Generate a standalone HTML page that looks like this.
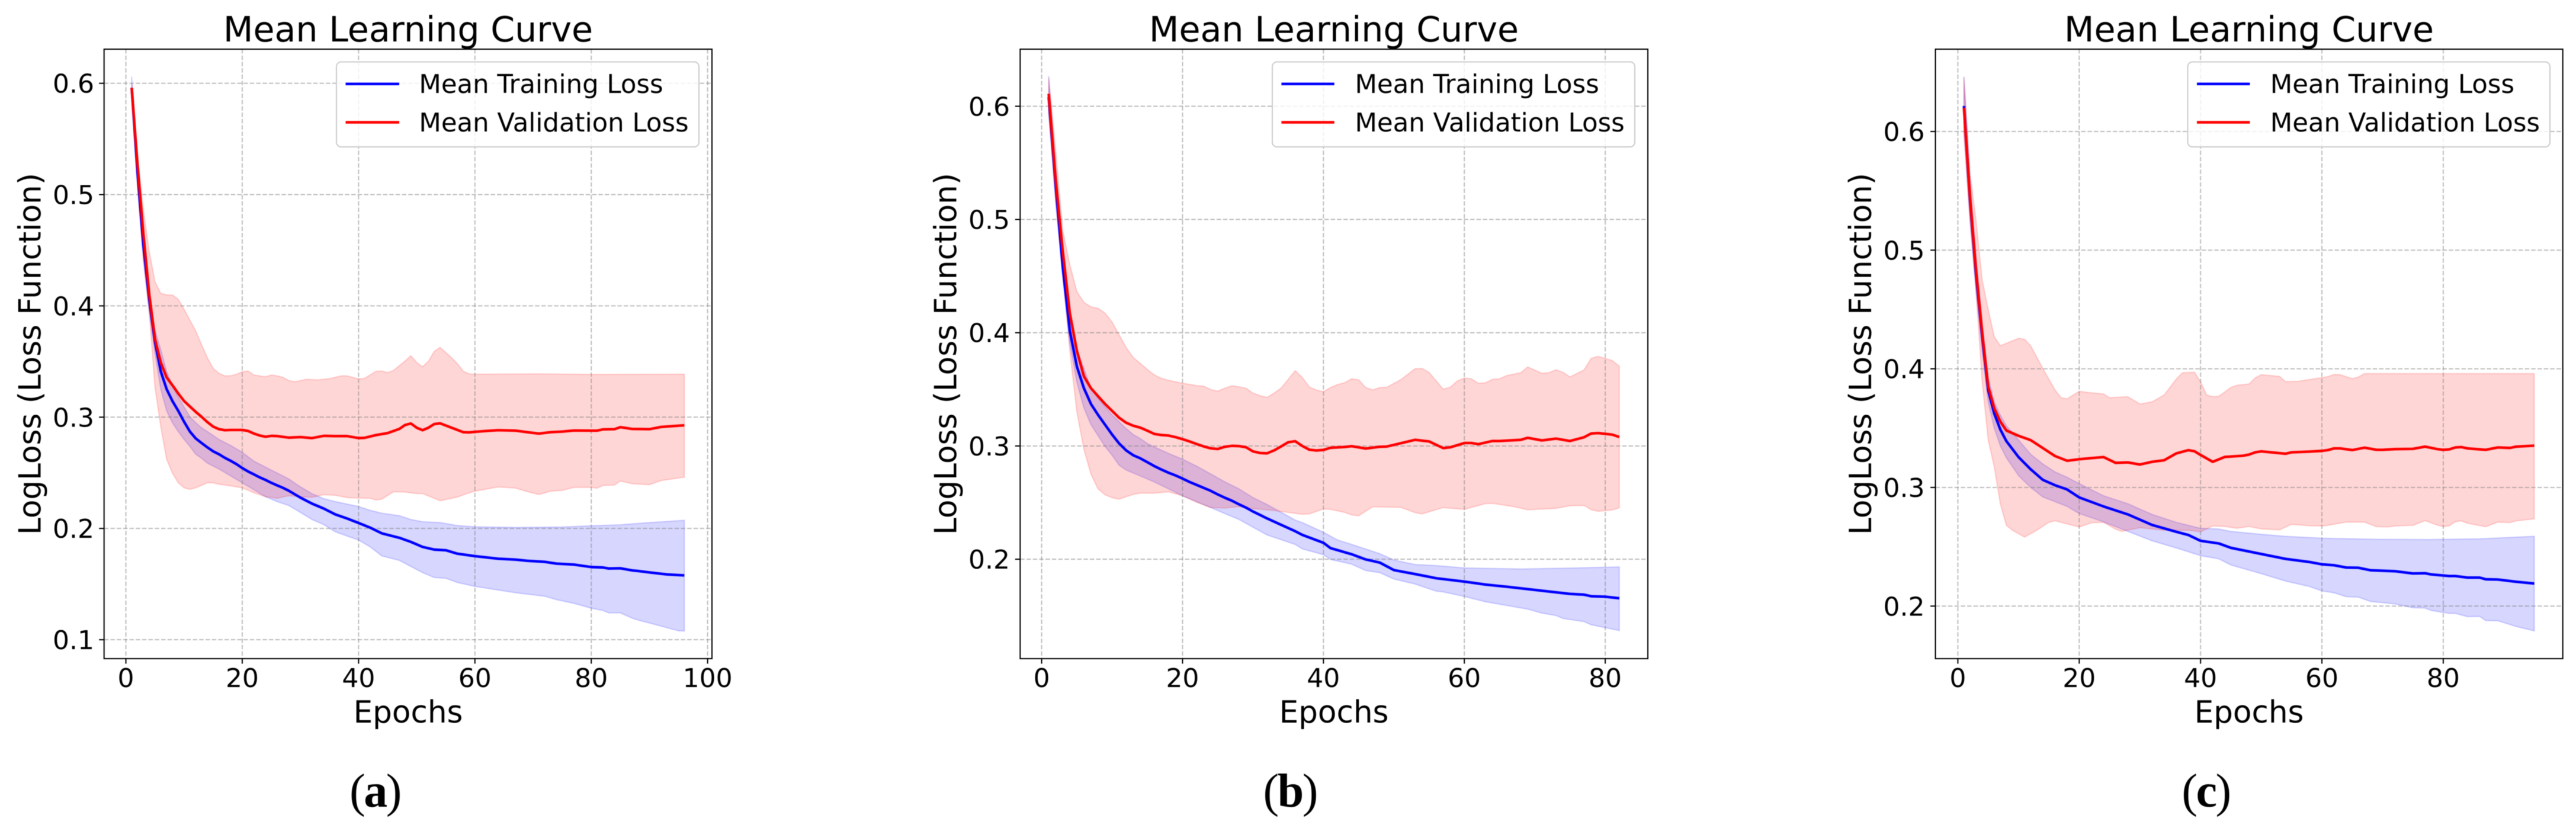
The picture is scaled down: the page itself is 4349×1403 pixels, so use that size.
<!DOCTYPE html>
<html lang="en">
<head>
<meta charset="utf-8">
<title>Mean Learning Curve panels</title>
<style>
html,body{margin:0;padding:0;background:#fff;}
svg{display:block;filter:blur(.6px);}
text{font-family:"DejaVu Sans",sans-serif;fill:#000;}
.title{font-size:58.6px;text-anchor:middle;}
.axis-label{font-size:51.6px;text-anchor:middle;}
.tick-label{font-size:44px;}
.legend-text{font-size:43.4px;}
.caption{font-family:"Liberation Serif",serif;font-size:80px;text-anchor:middle;letter-spacing:-2.5px;}
.legend-box{fill:#fff;fill-opacity:.8;stroke:#ccc;stroke-width:2;}
.spine{fill:none;stroke:#000;stroke-width:2;}
</style>
</head>
<body>
<svg id="figure" xmlns="http://www.w3.org/2000/svg" width="4349" height="1403" viewBox="0 0 4349 1403">
<rect width="4349" height="1403" fill="#fff"/>

<g>
  <g id="plot-a"></g>
  <rect class="spine" x="175.7" y="83" width="1026.3" height="1029"/>
  <text class="title" x="689" y="70">Mean Learning Curve</text>
  <text class="axis-label" x="689" y="1220">Epochs</text>
  <text class="axis-label" x="68.5" y="597.5" transform="rotate(-90 68.5 597.5)">LogLoss (Loss Function)</text>
  <g>
    <rect class="legend-box" x="568" y="104.5" width="612" height="143.5" rx="8"/>
    <line x1="583.5" x2="674" y1="141.7" y2="141.7" stroke="#00f" stroke-width="4.4"/>
    <line x1="583.5" x2="674" y1="206.5" y2="206.5" stroke="#f00" stroke-width="4.4"/>
    <text class="legend-text" x="707.4" y="157">Mean Training Loss</text>
    <text class="legend-text" x="707.4" y="222">Mean Validation Loss</text>
  </g>
  <text class="caption" x="633" y="1362">(<tspan font-weight="bold">a</tspan>)</text>
</g>

<g>
  <g id="plot-b"></g>
  <rect class="spine" x="1722.3" y="83" width="1059.7" height="1029"/>
  <text class="title" x="2252" y="70">Mean Learning Curve</text>
  <text class="axis-label" x="2252" y="1220">Epochs</text>
  <text class="axis-label" x="1614.5" y="597.5" transform="rotate(-90 1614.5 597.5)">LogLoss (Loss Function)</text>
  <g>
    <rect class="legend-box" x="2148" y="104.5" width="612" height="143.5" rx="8"/>
    <line x1="2163.4" x2="2252.7" y1="141.7" y2="141.7" stroke="#00f" stroke-width="4.4"/>
    <line x1="2163.4" x2="2252.7" y1="206.5" y2="206.5" stroke="#f00" stroke-width="4.4"/>
    <text class="legend-text" x="2287.5" y="157">Mean Training Loss</text>
    <text class="legend-text" x="2287.5" y="222">Mean Validation Loss</text>
  </g>
  <text class="caption" x="2177.7" y="1362">(<tspan font-weight="bold">b</tspan>)</text>
</g>

<g>
  <g id="plot-c"></g>
  <rect class="spine" x="3267.5" y="83" width="1059.2" height="1029"/>
  <text class="title" x="3797" y="70">Mean Learning Curve</text>
  <text class="axis-label" x="3797" y="1220">Epochs</text>
  <text class="axis-label" x="3159" y="597.5" transform="rotate(-90 3159 597.5)">LogLoss (Loss Function)</text>
  <g>
    <rect class="legend-box" x="3693.5" y="104.5" width="611.5" height="143.5" rx="8"/>
    <line x1="3709" x2="3798.4" y1="141.7" y2="141.7" stroke="#00f" stroke-width="4.4"/>
    <line x1="3709" x2="3798.4" y1="206.5" y2="206.5" stroke="#f00" stroke-width="4.4"/>
    <text class="legend-text" x="3832.8" y="157">Mean Training Loss</text>
    <text class="legend-text" x="3832.8" y="222">Mean Validation Loss</text>
  </g>
  <text class="caption" x="3724" y="1362">(<tspan font-weight="bold">c</tspan>)</text>
</g>
</svg>

<script>
/* ---------- Panel (a) data ---------- */
const aXTicks = [0, 20, 40, 60, 80, 100];
const aXTickLabels = ['0', '20', '40', '60', '80', '100'];
const aYTicks = [0.1, 0.2, 0.3, 0.4, 0.5, 0.6];
const aYTickLabels = ['0.1', '0.2', '0.3', '0.4', '0.5', '0.6'];

const aTrainMeanEpochs = [1,2,3,4,5, 6,7,8,9,10, 11,12,13,14,15, 16,17,18,19,20, 21,22,23,24,25, 26,27,28, 30,32,34,36,38, 40,42,44,47,49,51,53,55,57,60,64,67,69,72,74,77,80,82,83,85,87,88,90,93,96];
const aTrainMeanValues = [.596,.52,.455,.4067,.3677, .3411,.3252,.3145,.3057,.2959, .2871,.2809,.2768,.2729,.2693, .2667,.2635,.2608,.2578,.2543, .2512,.2486,.2459,.2436,.241, .2387,.2365,.2339, .2277,.2223,.2179,.2126,.209, .2049,.2007,.1956,.1916,.1879,.1834,.181,.1804,.1773,.1751,.1728,.172,.1709,.17,.1684,.1675,.1653,.1649,.164,.1642,.1623,.1618,.1605,.1587,.1578];
const aTrainUpperEpochs = [1,2,3,4,5, 6,7,8,9,10, 11,12,13,14, 16,18,20,22,24,26, 28,30,32,34,36,40, 42,44,47,49,51,54,57,60,67,75,80,85,90,96];
const aTrainUpperValues = [.606,.53,.465,.41,.3784, .3606,.3411,.3287,.3181,.3092, .3004,.295,.2906,.2871, .28,.2746,.2684,.2605,.2551,.2498, .2445,.2374,.2312,.2268,.2241,.2197, .2163,.2137,.2115,.208,.206,.2053,.2026,.2015,.2009,.2013,.2024,.2033,.2053,.2073];
const aTrainLowerEpochs = [1,2,3,4,5, 6,7,8,9,10, 11,12,13,14, 16,18,20,22,24,26, 28,30,32,34,36,40, 42,44,47,49,51,53, 55,57,60,67,72,74, 77,80,82,83,85,87, 88,90,95,96];
const aTrainLowerValues = [.59,.51,.445,.395,.3571, .3252,.3057,.295,.2871,.28, .2738,.2667,.2631,.2587, .2534,.2472,.241,.2348,.2285,.2241, .2206,.2144,.208,.2035,.197,.1895, .1834,.1753,.1713,.1658,.1603,.1559, .1552,.1514,.1479,.1422,.1391,.136, .1327,.1283,.1263,.1241,.1241,.1194, .1177,.115,.108,.1078];
const aValMeanEpochs = [1,2,3,4,5, 6,7,8,9,10, 11,12,13,14,15, 16,17,18, 20,21,22,23,24,25,26,27,28, 30,32,34,36,38,40, 41,43,45,47,48,49,50,51, 52,53,54,55,56,58,59,60, 62,64,67,69,71,73,75,77, 80,81,82,84,85,87,90,92, 96];
const aValMeanValues = [.596,.527,.465,.4112,.3704, .3491,.3358,.3287,.3213,.3145, .3096,.3048,.3004,.2956,.2915, .2892,.2883,.2885, .2885,.2876,.2853,.2835,.2824,.2832,.283,.2823,.2816, .2821,.2812,.2832,.283,.283,.2812, .2814,.2839,.2857,.2894,.293,.2943,.2905,.2883, .2905,.2938,.2945,.2925,.2905,.2865,.2863,.2868, .2876,.2883,.2879,.2865,.2852,.2865,.287,.288, .2879,.2879,.289,.2892,.291,.2894,.2892,.2912, .2927];
const aValUpperEpochs = [1,2,3,4,5, 6,7,8,9,10, 11,12,13,14,15, 16,17,18,19,20, 21,22,23,24,25, 26,27,28,29,30, 31,33,35,37,38,40, 41,43,44,45,46,48,49,50,51, 52,53,54,56,57,58,59,60, 71,80,96];
const aValUpperValues = [.6,.536,.486,.4494,.4218, .4112,.4099,.4098,.4059,.397, .3872,.3775,.3651,.3535,.3438, .3394,.3371,.3372,.3385,.3408, .3415,.3379,.3371,.3363,.3379, .3371,.3358,.3328,.3319,.3328, .334,.3335,.3346,.3371,.3371,.3344, .3347,.3413,.3415,.34,.342,.3505,.3552,.349,.3453, .3502,.359,.3627,.3534,.3479,.3413,.3389,.3386, .3389,.3384,.3386];
const aValLowerEpochs = [1,2,3,4,5, 6,7,8,9,10, 11,12,13,14,15, 16,18,20,22,24,26,28, 30,32,34,36,38,40, 42,43,44,46,48,50,51,53,54,57, 59,60,64,67,69,71,73,75, 77,80,81,82,84,85,87,90, 92,96];
const aValLowerValues = [.59,.505,.44,.3952,.327, .2915,.2622,.2498,.241,.2365, .2351,.2365,.2387,.241,.241, .2397,.2383,.2365,.2321,.2285,.2271,.2294, .2285,.228,.2303,.2298,.2277,.2273, .2271,.2256,.2263,.2329,.2327,.2313,.2313,.2271,.2249,.2282, .232,.2335,.2373,.2362,.2331,.2305,.2335,.2342, .2369,.2369,.2362,.2386,.239,.2426,.2402,.2393, .243,.2461];

/* ---------- Panel (b) data ---------- */
const bXTicks = [0, 20, 40, 60, 80];
const bXTickLabels = ['0', '20', '40', '60', '80'];
const bYTicks = [0.2, 0.3, 0.4, 0.5, 0.6];
const bYTickLabels = ['0.2', '0.3', '0.4', '0.5', '0.6'];

const bTrainMeanEpochs = [1,2,3,4,5, 6,7,8,9,10, 11,12,13,14,15, 16,17,18,19,20, 21,22,23,24,25, 26,27,28,29,30, 31,32, 36,37,40,41,44,46,48,50, 53,56,60,63,66,71,75,77, 78,80,82];
const bTrainMeanValues = [.608,.53,.458,.4016,.3702, .351,.3371,.3275,.3188,.3101, .3022,.2961,.2918,.2891,.2857, .2822,.2792,.2764,.274,.2712, .2682,.2656,.263,.2604,.2572, .2543,.2517,.2485,.2456,.2421, .2391,.236, .2247,.2215,.2145,.2098,.2044,.1998,.197,.1904, .1869,.1832,.1802,.1776,.1757,.1722,.1694,.1687, .1673,.1669,.1655];
const bTrainUpperEpochs = [1,2,3,4,5, 6,7,8,9,10, 11,12,13,14,15, 16, 18,20,22,24,26,28,30,32, 36,37,40,42,44,48,50,53,56,60,68,76,82];
const bTrainUpperValues = [.6267,.545,.475,.415,.3859, .3685,.351,.3423,.3345,.3275, .3214,.3153,.3101,.3066,.3022, .2991, .2935,.2883,.2822,.2753,.2683,.2622,.2544,.2483, .2345,.2324,.2238,.217,.2131,.2049,.1993,.1953,.1944,.1923,.1914,.1923,.1932];
const bTrainLowerEpochs = [1,2,3,4,5, 6,7,8,9,10, 11,12,13,14, 16,18,20,22,24,26,28,32, 36,37,40,41,44,46,48,50, 53,56,57,60,63,69,71,73, 74,77,78,82];
const bTrainLowerValues = [.595,.515,.45,.391,.3562, .3336,.3188,.3092,.2996,.2918, .283,.2787,.2761,.2735, .2682,.2621,.256,.2508,.2456,.2403,.2351,.2214, .213,.2091,.204,.1998,.1956,.19,.1881,.1825, .1781,.1718,.1711,.1671,.1624,.1559,.1524,.1503, .1477,.1449,.1421,.137];
const bValMeanEpochs = [1,2,3,4,5, 6,7,8,9,10, 11,12,13,14,15, 16,17,18,19,20, 21,22,23,24,25, 26,27,28,29,30, 31,32,33,34, 35,36,37,38,39,40,41,43, 44,46,48,49,53,55,57,58, 60,61,62,64,65,68,69,71, 73,75,77,78,79,81,82];
const bValMeanValues = [.611,.535,.472,.4173,.3841, .3615,.351,.344,.3371,.331, .3249,.3205,.3179,.3162,.3135, .3106,.3097,.3092,.3078,.306, .304,.3017,.2996,.2979,.2973, .2993,.3001,.2999,.2989,.2952, .2938,.2935,.2961,.2996, .3033,.3042,.3,.2967,.296,.2965,.2984,.2991, .2998,.2977,.2993,.2995,.3054,.304,.2981,.2988, .3026,.3026,.3016,.3044,.3044,.3054,.3072,.3049, .3065,.3044,.3077,.311,.3114,.31,.3079];
const bValUpperEpochs = [1,2,3,4,5, 6,7,8,9,10, 11,12,13,14,15, 16,17,18, 20,22,23,24,25,26,27,28,29,30,31,32,33,34, 36,37,38,39,40,41,42,43, 44,45,46,47,48,49,51,53, 54,55,57,58,59,60,61,62, 63,64,65,66,68,69,71,72, 73,74,75,77,78,79,81,82];
const bValUpperValues = [.625,.56,.49,.46,.4363, .4268,.4228,.4216,.4173,.4094, .3981,.3868,.3781,.3729,.3676, .3627,.3597,.358, .3554,.3533,.3528,.3498,.3484,.351,.3531,.3522,.351,.3467,.3444,.3429,.3467,.3511, .3665,.3604,.3521,.3493,.3479,.3516,.3542,.3558, .3593,.3584,.3516,.3495,.3516,.3518,.3586,.3682, .3684,.3649,.3502,.3518,.3574,.36,.3593,.3553, .3558,.3588,.3593,.3621,.3647,.3698,.3642,.3647, .3672,.3651,.3609,.3672,.3773,.3791,.3754,.3705];
const bValLowerEpochs = [1,2,3,4,5, 6,7,8,9,10, 11,12,13,14, 16,18,20,22,24,26,28,30,33, 37,38,40,41, 43,44,45,47,51,53,54,55, 57,60,63,64,67,69,73,75, 77,78,79,81,82];
const bValLowerValues = [.595,.515,.45,.3841,.3301, .297,.2752,.2621,.2569,.2543, .253,.2552,.2572,.2583, .2583,.2595,.256,.2503,.2456,.2452,.2464,.2447,.243, .2397,.24,.2444,.244, .2414,.2391,.2384,.2463,.2458,.2412,.24,.2419, .2456,.244,.2491,.2493,.2465,.2437,.2449,.2472, .2475,.2437,.2423,.2435,.2454];

/* ---------- Panel (c) data ---------- */
const cXTicks = [0, 20, 40, 60, 80];
const cXTickLabels = ['0', '20', '40', '60', '80'];
const cYTicks = [0.2, 0.3, 0.4, 0.5, 0.6];
const cYTickLabels = ['0.2', '0.3', '0.4', '0.5', '0.6'];

const cTrainMeanEpochs = [1,2,3,4,5,6,7,8, 10,12,14,16,18,20,24,28, 32,36,38,40,43,45,50,54, 58,60,62,64,66,68,72,75, 77,78,81,82,84,86,87,89, 92,95];
const cTrainMeanValues = [.6215,.543,.48,.428,.382,.3622,.3488,.339, .3256,.3153,.3064,.3019,.2983,.2916,.284,.2773, .2684,.2626,.2599,.255,.2528,.2491,.2439,.2398, .2371,.2352,.2344,.2325,.2323,.2302,.2294,.2275, .2277,.2267,.2253,.2253,.224,.224,.2226,.2224, .2205,.219];
const cTrainUpperEpochs = [1,2,3,4,5,6,7,8, 10,12,14,16,18,20,24,28, 32,36,40,43,45,50,54,60, 69,78,86,95];
const cTrainUpperValues = [.646,.56,.495,.44,.393,.372,.361,.352, .34,.328,.3198,.3131,.3086,.3032,.293,.2863, .2773,.2706,.2655,.265,.2629,.2605,.2588,.2572, .2563,.2561,.2567,.2588];
const cTrainLowerEpochs = [1,2,3,4,5,6,7,8, 10,12,14,16,18,20,24,28, 32,36,40,43,45,50,54,58, 60,62,64,66,68,72,75,77, 78,81,82,84,86,87,89,92, 95];
const cTrainLowerValues = [.6,.525,.465,.415,.372,.35,.335,.325, .31,.3,.292,.288,.284,.278,.271,.263, .255,.249,.2425,.2398,.2346,.2273,.2211,.2164, .2128,.2112,.2079,.2075,.2039,.2019,.1986,.1983, .1963,.1938,.1938,.1911,.1913,.1878,.1876,.1828, .1791];
const cValMeanEpochs = [1,2,3,4,5,6,7,8, 10,12,14,16,18,20,22,24, 26,28,30,32,34,36,38,39, 40,42,44,47,48,49,50,54, 55,58,60,61,62,63,65,67, 69,70,72,75,77,79,80,81, 82,83,84,87,89,91,92,95];
const cValMeanValues = [.62,.545,.483,.431,.385,.3667,.3555,.348, .3435,.3399,.3332,.3265,.3225,.3238,.3247,.3256, .3207,.3211,.3193,.3216,.3229,.3287,.3314,.3305, .3274,.3216,.3257,.3267,.3277,.3296,.3304,.3284, .3296,.3302,.3308,.3315,.3329,.3329,.3315,.3335, .3317,.3317,.3323,.3325,.3344,.3323,.3317,.3321, .3337,.334,.3329,.3317,.3337,.3333,.3344,.3352];
const cValUpperEpochs = [1,2,3,4,5,6,7,10, 11,12,14,16,17,18,20,22, 24,25,28,30,32,34,36,37, 39,40,41,42,43,44,45,46, 48,49,50,53,54,56,60,61, 62,63,65,66,67,95];
const cValUpperValues = [.6463,.565,.525,.475,.45,.427,.4194,.4257, .4248,.4194,.4002,.3823,.3756,.3747,.381,.3797, .3788,.3756,.3765,.3703,.3721,.3779,.3913,.3966, .3971,.389,.3779,.3765,.3768,.3805,.3843,.3861, .3872,.3923,.395,.3936,.3892,.3894,.3925,.3934, .3952,.395,.3917,.393,.3959,.3959];
const cValLowerEpochs = [1,2,3,4,5,6,7,8, 9,11,13,15,16,18,20,22, 24,26,27,30,34,38,40,42, 44,46,48,50,53,55,58,60, 61,64,67,69,71,72,75,77, 79,80,81,82,83,84,87,89, 91,92,95];
const cValLowerValues = [.598,.525,.465,.39,.34,.3175,.2862,.268, .2639,.2581,.2639,.2706,.2719,.2693,.2666,.2702, .2706,.2648,.263,.2661,.2639,.2639,.2626,.2675, .2671,.2656,.2671,.265,.2642,.2689,.2677,.2675, .2681,.2708,.2708,.2669,.2667,.2675,.2681,.272, .2683,.2669,.2677,.2712,.2718,.2698,.2669,.2708, .2704,.2718,.2735];

/* ---------- Drawing ---------- */
const SVG_NS = 'http://www.w3.org/2000/svg';

function makeScale(domainMin, domainMax, rangeMin, rangeMax) {
  return function (v) {
    return rangeMin + (v - domainMin) / (domainMax - domainMin) * (rangeMax - rangeMin);
  };
}

function pointList(epochs, values, sx, sy) {
  return epochs.map(function (e, i) {
    return sx(e).toFixed(2) + ',' + sy(values[i]).toFixed(2);
  });
}

function drawGridLine(parent, x1, y1, x2, y2, name) {
  const el = document.createElementNS(SVG_NS, 'line');
  
  
  el.setAttribute('x1', x1);
  el.setAttribute('y1', y1);
  el.setAttribute('x2', x2);
  el.setAttribute('y2', y2);
  el.setAttribute('stroke', '#808080');
  el.setAttribute('stroke-opacity', '0.5');
  el.setAttribute('stroke-width', '2');
  el.setAttribute('stroke-dasharray', '7.5 3.2');
  parent.appendChild(el);
}

function drawTick(parent, x1, y1, x2, y2, name) {
  const el = document.createElementNS(SVG_NS, 'line');
  
  
  el.setAttribute('x1', x1);
  el.setAttribute('y1', y1);
  el.setAttribute('x2', x2);
  el.setAttribute('y2', y2);
  el.setAttribute('stroke', '#000');
  el.setAttribute('stroke-width', '2');
  parent.appendChild(el);
}

function drawTickLabel(parent, x, y, anchor, label, name) {
  const el = document.createElementNS(SVG_NS, 'text');
  
  
  el.setAttribute('class', 'tick-label');
  el.setAttribute('x', x);
  el.setAttribute('y', y);
  el.setAttribute('text-anchor', anchor);
  el.textContent = label;
  parent.appendChild(el);
}

function drawBand(parent, upperE, upperV, lowerE, lowerV, sx, sy, color, name) {
  const el = document.createElementNS(SVG_NS, 'polygon');
  
  
  const pts = pointList(upperE, upperV, sx, sy).concat(pointList(lowerE, lowerV, sx, sy).reverse());
  el.setAttribute('points', pts.join(' '));
  el.setAttribute('fill', color);
  el.setAttribute('fill-opacity', '0.16');
  el.setAttribute('stroke', color);
  el.setAttribute('stroke-opacity', '0.16');
  el.setAttribute('stroke-width', '2');
  parent.appendChild(el);
}

function drawCurve(parent, epochs, values, sx, sy, color, name) {
  const el = document.createElementNS(SVG_NS, 'polyline');
  
  
  el.setAttribute('points', pointList(epochs, values, sx, sy).join(' '));
  el.setAttribute('fill', 'none');
  el.setAttribute('stroke', color);
  el.setAttribute('stroke-width', '4.4');
  el.setAttribute('stroke-linejoin', 'round');
  parent.appendChild(el);
}

function drawPanel(p) {
  const g = document.getElementById('plot-' + p.id);
  const sx = makeScale(p.xMin, p.xMax, p.left, p.right);
  const sy = makeScale(p.yMin, p.yMax, p.bottom, p.top);

  drawBand(g, p.trainUpperE, p.trainUpperV, p.trainLowerE, p.trainLowerV, sx, sy, '#0000ff', 'panel-' + p.id + '-training-band');
  drawBand(g, p.valUpperE, p.valUpperV, p.valLowerE, p.valLowerV, sx, sy, '#ff0000', 'panel-' + p.id + '-validation-band');

  p.xTicks.forEach(function (t, i) {
    const x = sx(t);
    drawGridLine(g, x, p.top, x, p.bottom, 'panel-' + p.id + '-x-grid-line');
    drawTick(g, x, p.bottom, x, p.bottom + 8.5, 'panel-' + p.id + '-x-tick');
    drawTickLabel(g, x, 1160, 'middle', p.xLabels[i], 'panel-' + p.id + '-x-tick-label');
  });
  p.yTicks.forEach(function (t, i) {
    const y = sy(t);
    drawGridLine(g, p.left, y, p.right, y, 'panel-' + p.id + '-y-grid-line');
    drawTick(g, p.left - 8.5, y, p.left, y, 'panel-' + p.id + '-y-tick');
    drawTickLabel(g, p.labelRight, y + 16, 'end', p.yLabels[i], 'panel-' + p.id + '-y-tick-label');
  });

  drawCurve(g, p.trainMeanE, p.trainMeanV, sx, sy, '#0000ff', 'panel-' + p.id + '-training-loss-line');
  drawCurve(g, p.valMeanE, p.valMeanV, sx, sy, '#ff0000', 'panel-' + p.id + '-validation-loss-line');
}

drawPanel({
  id: 'a', left: 175.7, right: 1202, top: 83, bottom: 1112, labelRight: 159,
  xMin: -3.75, xMax: 100.75, yMin: 0.083, yMax: 0.6307,
  xTicks: aXTicks, xLabels: aXTickLabels, yTicks: aYTicks, yLabels: aYTickLabels,
  trainMeanE: aTrainMeanEpochs, trainMeanV: aTrainMeanValues,
  trainUpperE: aTrainUpperEpochs, trainUpperV: aTrainUpperValues,
  trainLowerE: aTrainLowerEpochs, trainLowerV: aTrainLowerValues,
  valMeanE: aValMeanEpochs, valMeanV: aValMeanValues,
  valUpperE: aValUpperEpochs, valUpperV: aValUpperValues,
  valLowerE: aValLowerEpochs, valLowerV: aValLowerValues
});
drawPanel({
  id: 'b', left: 1722.3, right: 2782, top: 83, bottom: 1112, labelRight: 1705,
  xMin: -3.05, xMax: 86.05, yMin: 0.1122, yMax: 0.6504,
  xTicks: bXTicks, xLabels: bXTickLabels, yTicks: bYTicks, yLabels: bYTickLabels,
  trainMeanE: bTrainMeanEpochs, trainMeanV: bTrainMeanValues,
  trainUpperE: bTrainUpperEpochs, trainUpperV: bTrainUpperValues,
  trainLowerE: bTrainLowerEpochs, trainLowerV: bTrainLowerValues,
  valMeanE: bValMeanEpochs, valMeanV: bValMeanValues,
  valUpperE: bValUpperEpochs, valUpperV: bValUpperValues,
  valLowerE: bValLowerEpochs, valLowerV: bValLowerValues
});
drawPanel({
  id: 'c', left: 3267.5, right: 4326.7, top: 83, bottom: 1112, labelRight: 3249.5,
  xMin: -3.7, xMax: 99.7, yMin: 0.1557, yMax: 0.6694,
  xTicks: cXTicks, xLabels: cXTickLabels, yTicks: cYTicks, yLabels: cYTickLabels,
  trainMeanE: cTrainMeanEpochs, trainMeanV: cTrainMeanValues,
  trainUpperE: cTrainUpperEpochs, trainUpperV: cTrainUpperValues,
  trainLowerE: cTrainLowerEpochs, trainLowerV: cTrainLowerValues,
  valMeanE: cValMeanEpochs, valMeanV: cValMeanValues,
  valUpperE: cValUpperEpochs, valUpperV: cValUpperValues,
  valLowerE: cValLowerEpochs, valLowerV: cValLowerValues
});
</script>
</body>
</html>
